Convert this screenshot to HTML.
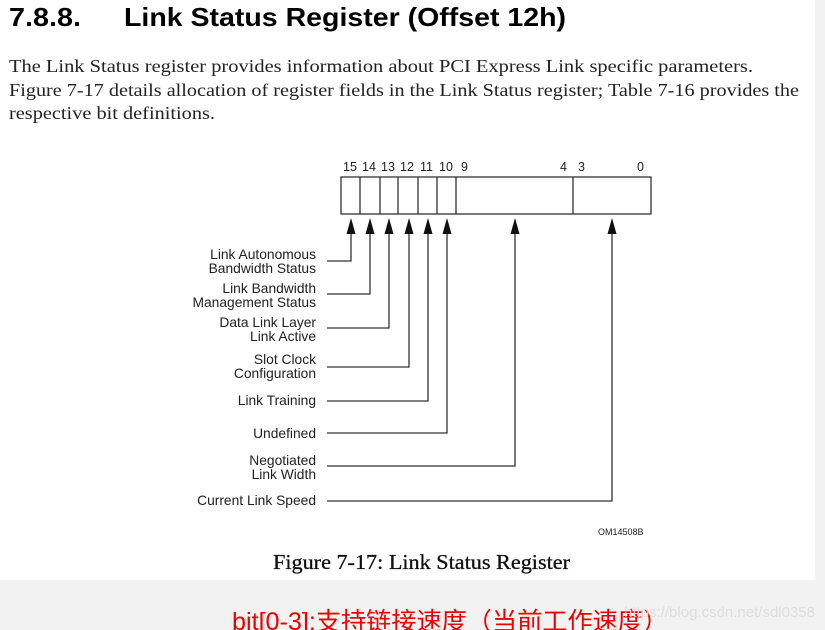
<!DOCTYPE html>
<html><head><meta charset="utf-8"><style>
html,body{margin:0;padding:0;background:#f2f2f2;width:825px;height:630px;overflow:hidden}
</style></head><body>
<svg width="825" height="630" xmlns="http://www.w3.org/2000/svg" style="position:absolute;left:0;top:0">
<rect x="0" y="0" width="815" height="580" fill="#fff"/>
<text x="9" y="26" font-family="Liberation Sans, sans-serif" font-weight="bold" font-size="26" fill="#000" textLength="72" lengthAdjust="spacingAndGlyphs">7.8.8.</text>
<text x="124" y="26" font-family="Liberation Sans, sans-serif" font-weight="bold" font-size="26" fill="#000" textLength="442" lengthAdjust="spacingAndGlyphs">Link Status Register (Offset 12h)</text>
<g font-family="Liberation Serif, serif" font-size="18" fill="#222">
<text x="9" y="72" textLength="744" lengthAdjust="spacingAndGlyphs">The Link Status register provides information about PCI Express Link specific parameters.</text>
<text x="9" y="96" textLength="790" lengthAdjust="spacingAndGlyphs">Figure 7-17 details allocation of register fields in the Link Status register; Table 7-16 provides the</text>
<text x="9" y="119" textLength="206" lengthAdjust="spacingAndGlyphs">respective bit definitions.</text>
</g>
<g font-family="Liberation Sans, sans-serif" font-size="12.5" fill="#222">
<text x="343" y="171">15</text><text x="362" y="171">14</text><text x="381" y="171">13</text><text x="400" y="171">12</text><text x="420" y="171">11</text><text x="439" y="171">10</text><text x="461" y="171">9</text><text x="560" y="171">4</text><text x="578" y="171">3</text><text x="637" y="171">0</text>
</g>
<g stroke="#333" stroke-width="1.3" fill="none">
<rect x="341" y="177" width="310" height="37"/>
<path d="M360 177V214M380 177V214M398 177V214M418 177V214M437 177V214M456 177V214M573 177V214"/>
<path d="M327 261H351V225M327 294H370V225M327 328H389V225M327 367H409V225M327 401H428V225M327 433H447V225M327 466H515V225M327 501H612V225"/>
</g>
<g fill="#111">
<path d="M351 218l-4.5 16h9z"/><path d="M370 218l-4.5 16h9z"/><path d="M389 218l-4.5 16h9z"/><path d="M409 218l-4.5 16h9z"/><path d="M428 218l-4.5 16h9z"/><path d="M447 218l-4.5 16h9z"/><path d="M515 218l-4.5 16h9z"/><path d="M612 218l-4.5 16h9z"/>
</g>
<g font-family="Liberation Sans, sans-serif" font-size="13.8" fill="#222" text-anchor="end">
<text x="316" y="259">Link Autonomous</text><text x="316" y="273">Bandwidth Status</text>
<text x="316" y="293">Link Bandwidth</text><text x="316" y="307">Management Status</text>
<text x="316" y="327">Data Link Layer</text><text x="316" y="341">Link Active</text>
<text x="316" y="364">Slot Clock</text><text x="316" y="378">Configuration</text>
<text x="316" y="405">Link Training</text>
<text x="316" y="438">Undefined</text>
<text x="316" y="465">Negotiated</text><text x="316" y="479">Link Width</text>
<text x="316" y="505">Current Link Speed</text>
</g>
<text x="598" y="535" font-family="Liberation Sans, sans-serif" font-size="9" fill="#222">OM14508B</text>
<text x="273" y="569" font-family="Liberation Serif, serif" font-size="21" fill="#111" stroke="#111" stroke-width="0.3" textLength="297" lengthAdjust="spacingAndGlyphs">Figure 7-17:  Link Status Register</text>
<text x="232" y="630" font-family="Liberation Sans, 'Noto Sans CJK SC', sans-serif" font-size="25" fill="#e00" textLength="436" lengthAdjust="spacingAndGlyphs">bit[0-3]:支持链接速度（当前工作速度）</text>
<text x="815" y="617" text-anchor="end" font-family="Liberation Sans, sans-serif" font-size="15" fill="#ddd">https://blog.csdn.net/sdl0358</text>
</svg>
</body></html>
